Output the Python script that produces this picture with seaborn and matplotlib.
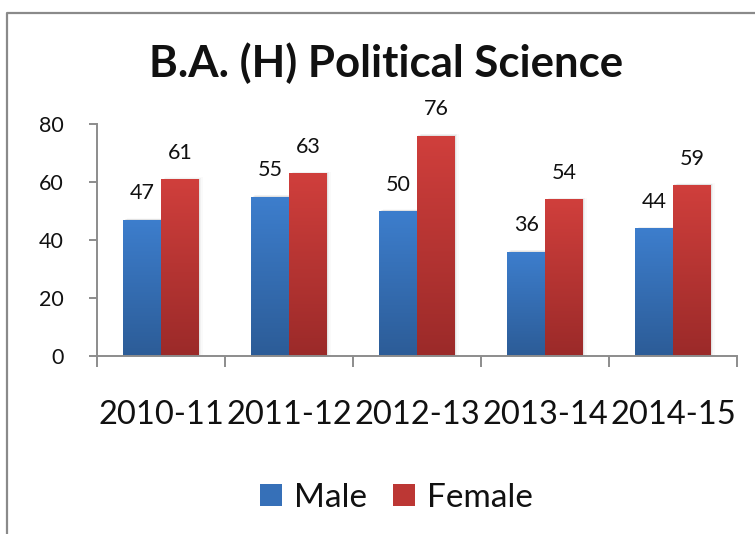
import numpy as np
import pandas as pd
import matplotlib
matplotlib.use("Agg")
import matplotlib.pyplot as plt
from matplotlib.lines import Line2D
from matplotlib.patches import Patch
import seaborn as sns

# Admissions by academic year
years = ["2010-11", "2011-12", "2012-13", "2013-14", "2014-15"]
male = [47, 55, 50, 36, 44]
female = [61, 63, 76, 54, 59]
series = ["Male", "Female"]
y_ticks = [0, 20, 40, 60, 80]

df = pd.DataFrame({
    "Year": years * 2,
    "Count": male + female,
    "Gender": ["Male"] * len(years) + ["Female"] * len(years),
})

# top / bottom shades for the vertical gradient fill
shades = {
    "Male": ("#3D7ECD", "#2C5C97"),
    "Female": ("#D03F3C", "#9B2A29"),
}
mid = {"Male": "#3670B8", "Female": "#BC3734"}

sns.set_theme(style="white")
plt.rcParams["font.family"] = ["Lato", "DejaVu Sans"]

fig = plt.figure(figsize=(7.55, 5.34), dpi=100)
ax = fig.add_axes([97 / 755, 178 / 534, 640 / 755, 232 / 534])

sns.barplot(data=df, x="Year", y="Count", hue="Gender", hue_order=series,
            palette=mid, width=0.59, gap=0, errorbar=None, ax=ax,
            legend=False, saturation=1)

ax.set_ylim(0, 80)
ax.set_xlim(-0.5, len(years) - 0.5)

# gradient fill, soft shadow and value label for every bar
for cont, name in zip(ax.containers, series):
    top, bot = shades[name]
    c0 = np.array(matplotlib.colors.to_rgb(top))
    c1 = np.array(matplotlib.colors.to_rgb(bot))
    t = np.linspace(0, 1, 256)[:, None]
    grad = (c0 * (1 - t) + c1 * t)[:, None, :]
    for bar, val in zip(cont.patches, cont.datavalues):
        x0, w, h = bar.get_x(), bar.get_width(), bar.get_height()
        for k, a in enumerate([0.06, 0.035, 0.02]):
            sh = plt.Rectangle((x0 + 0.01 * (k + 1), 0), w, h + 0.2 * (k + 1),
                               facecolor="black", alpha=a, lw=0, zorder=1)
            ax.add_patch(sh)
        im = ax.imshow(grad, extent=[x0, x0 + w, 0, h], aspect="auto",
                       origin="upper", zorder=2, interpolation="bilinear")
        im.set_clip_path(bar)
        bar.set_facecolor("none")
        bar.set_edgecolor("none")
        bar.set_zorder(3)
        ax.annotate(f"{val:g}", (x0 + w / 2, h), xytext=(0, 19),
                    textcoords="offset points", ha="center", va="center",
                    fontsize=15.5, color="#111111")
ax.set_xlim(-0.5, len(years) - 0.5)
ax.set_ylim(0, 80)

# axes styling
axis_grey = "#8C8C8C"
for s in ["top", "right"]:
    ax.spines[s].set_visible(False)
for s in ["left", "bottom"]:
    ax.spines[s].set_color(axis_grey)
    ax.spines[s].set_linewidth(1.4)

ax.set_yticks(y_ticks)
ax.set_yticklabels([str(v) for v in y_ticks])
ax.tick_params(axis="y", direction="out", length=6, width=1.4, color=axis_grey,
               pad=18, labelsize=15.5, labelcolor="#111111", left=True)
ax.set_xticks(range(len(years)))
ax.set_xticklabels(years)
ax.set_xticks(np.arange(-0.5, len(years)), minor=True)
ax.tick_params(axis="x", which="major", length=0, pad=32, labelsize=23.5,
               labelcolor="#111111")
ax.tick_params(axis="x", which="minor", direction="out", length=8, width=1.4,
               color=axis_grey, bottom=True)
ax.set_xlabel("")
ax.set_ylabel("")

fig.text(0.512, 0.882, "B.A. (H) Political Science", ha="center", va="center",
         fontsize=31.5, fontweight="bold", color="#111111")

handles = [Patch(facecolor=mid[n], edgecolor="none") for n in series]
fig.legend(handles, series, loc="center", bbox_to_anchor=(0.525, 0.068),
           ncol=2, frameon=False, fontsize=24, handlelength=0.65,
           handleheight=0.65, handletextpad=0.35, columnspacing=0.8,
           labelcolor="#111111")

# chart-area frame
bx, by = 7 / 755, (534 - 13) / 534
fig.add_artist(Line2D([bx, bx, 1.0], [0.0, by, by], transform=fig.transFigure,
                      color="#8A8A8A", lw=1.6))

fig.savefig("out.png", dpi=100)
